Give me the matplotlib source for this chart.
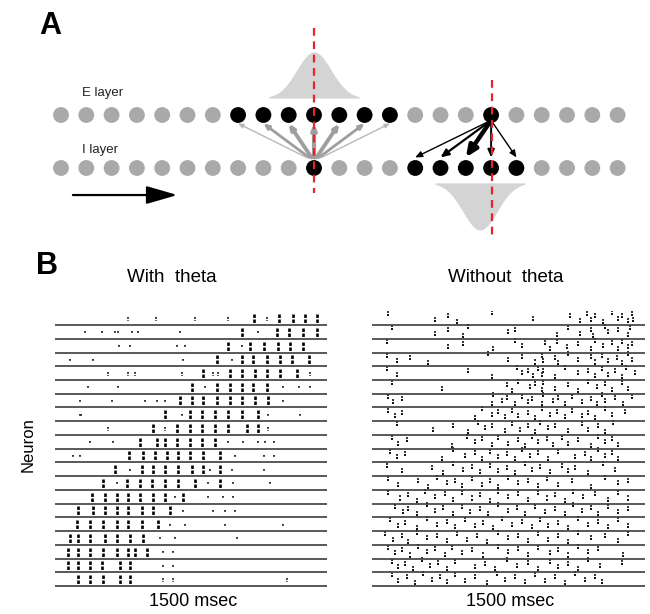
import numpy as np
import matplotlib
matplotlib.use("Agg")
import matplotlib.pyplot as plt

plt.rcParams['font.family'] = ['Liberation Sans', 'DejaVu Sans']

# ---- panel A: ring of E and I cells ----
n_cells = 23
e_active = [7, 8, 9, 10, 11, 12, 13, 17]
i_active = [10, 14, 15, 16, 17, 18]
conv_source = 10
conv_targets = [7, 8, 9, 10, 11, 12, 13]
conv_widths = [1.0, 2.0, 2.8, 3.0, 2.8, 2.0, 1.0]
div_source = 17
div_targets = [14, 15, 16, 17, 18]
div_widths = [1.0, 1.6, 3.2, 1.4, 1.0]
bump_e = dict(center=10.0, sigma=0.68, height=0.87, base=1.32, half=1.78)
bump_i = dict(center=16.56, sigma=0.68, height=-0.89, base=-0.28, half=1.78)

# ---- panel B: spike times (ms), rows listed from top to bottom ----
left_bursts = [
    [1098, 1238, 1315, 1380, 1444],
    [1030, 1223, 1293, 1370, 1444],
    [956, 1076, 1150, 1232, 1297, 1370],
    [892, 1030, 1094, 1168, 1242, 1306, 1398],
    [818, 966, 1030, 1104, 1168, 1242, 1334],
    [754, 892, 966, 1030, 1094, 1168],
    [690, 754, 818, 892, 966, 1030, 1104, 1177],
    [607, 745, 809, 883, 956, 1030, 1122],
    [542, 671, 745, 809, 883, 956, 1058, 1122],
    [469, 561, 607, 671, 745, 809, 883],
    [410, 487, 552, 616, 680, 745, 818, 910],
    [331, 478, 542, 607, 680, 754, 818, 910],
    [266, 395, 469, 533, 607, 680, 772, 910],
    [202, 276, 340, 404, 469, 542, 607, 708],
    [128, 211, 276, 340, 404, 478, 542, 634],
    [119, 193, 266, 340, 404, 478, 570],
    [82, 128, 193, 276, 340, 414, 487],
    [73, 128, 193, 266, 340, 404, 441, 506],
    [73, 128, 193, 257, 358, 414],
    [128, 193, 266, 358, 414],
]
left_sparse = [
    [404, 557, 772, 956, 1168],
    [165, 257, 331, 349, 423, 460, 690, 1122],
    [355, 414, 671, 717, 1030],
    [82, 211, 708, 975],
    [294, 404, 441, 699, 874, 901, 1407],
    [184, 349, 828, 1260, 1343, 1407],
    [138, 312, 496, 561, 607, 1260],
    [138, 145, 699, 1177, 1352],
    [294, 607, 1177],
    [193, 322, 956, 1039, 1122, 1159, 1205],
    [101, 138, 993, 1150, 1205],
    [414, 855, 975, 1150],
    [340, 846, 984, 1186],
    [662, 846, 929, 984],
    [708, 874, 938, 993],
    [634, 717, 938, 1260],
    [579, 662, 1002],
    [598, 653],
    [598, 653],
    [598, 653, 1278],
]
right_spikes = [
    [90, 346, 420, 465, 657, 886, 1087, 1142, 1179, 1206, 1225, 1270, 1316, 1353, 1371, 1408, 1426, 1435],
    [108, 346, 420, 502, 530, 749, 786, 1014, 1078, 1142, 1206, 1216, 1280, 1298, 1353, 1408, 1417],
    [81, 420, 502, 667, 786, 822, 950, 978, 1014, 1069, 1133, 1206, 1225, 1270, 1316, 1353, 1371, 1408, 1426],
    [81, 136, 209, 310, 639, 749, 822, 895, 932, 941, 1005, 1023, 1078, 1133, 1206, 1225, 1261, 1298, 1344, 1371, 1408, 1426],
    [81, 136, 529, 657, 795, 822, 859, 886, 914, 932, 941, 1005, 1060, 1133, 1188, 1225, 1261, 1298, 1335, 1371, 1398, 1444],
    [108, 383, 740, 767, 804, 868, 895, 932, 941, 1005, 1078, 1133, 1188, 1234, 1280, 1316, 1371, 1408],
    [90, 118, 163, 657, 667, 712, 740, 786, 822, 859, 877, 932, 941, 996, 1023, 1060, 1097, 1152, 1206, 1234, 1261, 1280, 1335, 1380, 1426],
    [90, 127, 163, 566, 602, 657, 694, 731, 767, 804, 859, 895, 932, 978, 1014, 1060, 1097, 1152, 1188, 1225, 1280, 1316, 1389],
    [136, 337, 447, 529, 584, 621, 657, 731, 767, 813, 859, 895, 923, 969, 1005, 1078, 1152, 1188, 1243, 1280, 1325],
    [108, 145, 191, 438, 520, 566, 602, 657, 694, 749, 804, 840, 877, 914, 959, 996, 1042, 1078, 1133, 1206, 1243, 1280, 1316, 1353],
    [99, 136, 182, 383, 447, 511, 566, 602, 648, 694, 740, 786, 822, 868, 914, 969, 1023, 1115, 1170, 1206, 1243, 1280, 1316, 1353],
    [81, 163, 328, 392, 447, 502, 548, 593, 648, 694, 740, 786, 840, 877, 923, 978, 1042, 1078, 1115, 1188, 1270, 1335],
    [90, 145, 255, 310, 355, 410, 456, 493, 548, 602, 648, 694, 749, 804, 859, 914, 959, 1023, 1097, 1206, 1280, 1353, 1408],
    [90, 154, 200, 246, 291, 346, 401, 447, 493, 548, 593, 648, 694, 749, 804, 859, 914, 959, 1005, 1060, 1106, 1161, 1225, 1298, 1353, 1408],
    [127, 172, 200, 246, 301, 346, 392, 447, 493, 538, 593, 639, 694, 749, 795, 840, 895, 950, 1005, 1060, 1106, 1152, 1206, 1243, 1298, 1353, 1408],
    [99, 145, 182, 246, 301, 355, 410, 456, 511, 566, 612, 667, 712, 767, 822, 877, 923, 969, 1023, 1078, 1133, 1188, 1243, 1298, 1353, 1408],
    [72, 118, 163, 200, 246, 301, 355, 410, 465, 520, 575, 630, 694, 749, 804, 859, 914, 969, 1023, 1078, 1133, 1206, 1280, 1353, 1408],
    [90, 127, 163, 209, 255, 301, 346, 401, 438, 493, 548, 612, 694, 749, 804, 859, 914, 978, 1023, 1078, 1133, 1188, 1243, 1380],
    [108, 145, 182, 227, 273, 319, 365, 410, 456, 566, 621, 676, 740, 795, 859, 914, 978, 1023, 1078, 1133, 1188, 1252, 1371],
    [108, 145, 191, 237, 282, 328, 374, 410, 456, 511, 566, 630, 685, 731, 786, 840, 895, 950, 1005, 1060, 1115, 1170, 1225, 1261],
]
duration = 1500

W, H = 650, 614
fig = plt.figure(figsize=(W / 100, H / 100), dpi=100)


def frac(x, y):
    return x / W, 1 - y / H


# ---------------- panel A ----------------
ax = fig.add_axes([0, 1 - 245 / H, 1, 245 / H])
ax.set_xlim(-2.411, 23.28)
ax.set_ylim(-1.453, 3.17)
ax.axis('off')

for b in (bump_e, bump_i):
    xs = np.linspace(b['center'] - b['half'], b['center'] + b['half'], 200)
    ys = b['base'] + b['height'] * np.exp(-0.5 * ((xs - b['center']) / b['sigma']) ** 2)
    ax.fill_between(xs, b['base'], ys, color='#d4d4d4', lw=0, zorder=1)

idx = np.arange(n_cells)
for layer_y, active in ((1, e_active), (0, i_active)):
    cols = ['black' if i in active else '#a9a9a9' for i in idx]
    ax.scatter(idx, np.full(n_cells, layer_y), s=130, c=cols, lw=0, zorder=3)

for t, w in zip(conv_targets, conv_widths):
    col = '#b8b8b8' if w < 1.5 else '#9e9e9e'
    ax.annotate('', xy=(t, 0.84), xytext=(conv_source + 0.1 * (t - conv_source), 0.2),
                arrowprops=dict(arrowstyle='-|>,head_length=0.5,head_width=0.22',
                                lw=w, color=col, mutation_scale=6,
                                shrinkA=0, shrinkB=0),
                zorder=2)

for t, w in zip(div_targets, div_widths):
    ax.annotate('', xy=(t, 0.2), xytext=(div_source, 0.9),
                arrowprops=dict(arrowstyle='-|>,head_length=0.5,head_width=0.22',
                                lw=w, color='black', mutation_scale=6 + 2.2 * w,
                                shrinkA=0, shrinkB=0),
                zorder=4)

ax.plot([10, 10], [2.64, -0.47], color='#e3262e', lw=1.6, dashes=(3.5, 2.5), zorder=5)
ax.plot([17.05, 17.05], [1.66, -1.32], color='#e3262e', lw=1.6, dashes=(3.5, 2.5), zorder=5)

ax.annotate('', xy=(4.6, -0.51), xytext=(0.47, -0.51),
            arrowprops=dict(arrowstyle='-|>,head_length=1.9,head_width=0.55',
                            lw=1.6, color='black', mutation_scale=10,
                            shrinkA=0, shrinkB=0))

ax.text(0.83, 1.415, 'E layer', fontsize=9.5, ha='left', va='center', color='#222222')
ax.text(0.83, 0.34, 'I layer', fontsize=9.5, ha='left', va='center', color='#222222')

fig.text(*frac(50, 26), 'A', fontsize=22, fontweight='bold', ha='center', va='center')
fig.text(*frac(47, 266), 'B', fontsize=22, fontweight='bold', ha='center', va='center')


# ---------------- panel B ----------------
def raster_axes(x0, x1):
    a = fig.add_axes([x0 / W, 1 - 588.8 / H, (x1 - x0) / W, 277.5 / H])
    a.set_xlim(0, duration)
    a.set_ylim(20.2, 0)
    a.axis('off')
    a.hlines(np.arange(1, 21), 0, duration, color='#3c3c3c', lw=1.2)
    return a


axl = raster_axes(55, 327)
for k, (bursts, sparse) in enumerate(zip(left_bursts, left_sparse)):
    axl.vlines(bursts, k + 0.2, k + 0.88, color='black', lw=1.9,
               linestyles=(0, (1.3, 0.6)))
    axl.vlines(sparse, k + 0.45, k + 0.68, color='#222222', lw=1.3,
               linestyles=(0, (1.0, 0.8)))

axr = raster_axes(372, 645)
jitter = np.array([0.3, 0.7, 0.45, 0.85, 0.2, 0.6, 0.4, 0.8])
for k, spikes in enumerate(right_spikes):
    yy = k + np.resize(jitter, len(spikes))
    axr.scatter(spikes, yy, s=3.5, marker='s', color='#151515', lw=0)
    axr.scatter(spikes, yy - 0.22, s=2.5, marker='s', color='#3a3a3a', lw=0)

fig.text(*frac(172, 277), 'With  theta', fontsize=13.5, ha='center', va='center')
fig.text(*frac(506, 277), 'Without  theta', fontsize=13.5, ha='center', va='center')
fig.text(*frac(28, 445), 'Neuron', fontsize=12, rotation=90, ha='center', va='center')
fig.text(*frac(193, 602), '1500 msec', fontsize=13, ha='center', va='center')
fig.text(*frac(510, 602), '1500 msec', fontsize=13, ha='center', va='center')

fig.savefig('out.png', dpi=100)
